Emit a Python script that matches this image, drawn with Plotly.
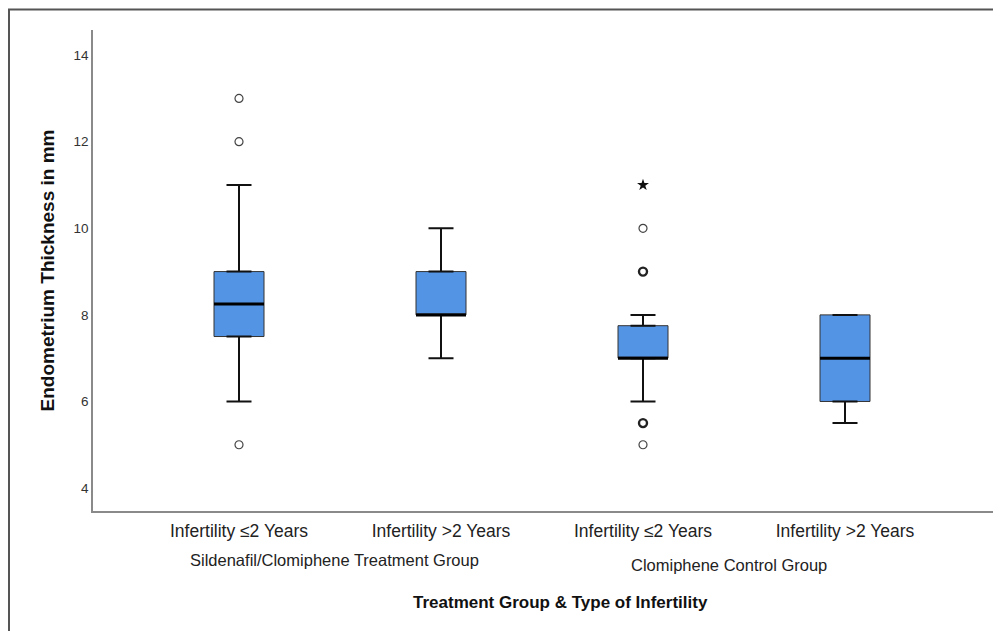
import plotly.graph_objects as go

# ---- data ----
groups = ["Sildenafil/Clomiphene Treatment Group", "Sildenafil/Clomiphene Treatment Group",
          "Clomiphene Control Group", "Clomiphene Control Group"]
subgroups = ["Infertility ≤2 Years", "Infertility >2 Years",
             "Infertility ≤2 Years", "Infertility >2 Years"]
q1 = [7.5, 8.0, 7.0, 6.0]
median = [8.25, 8.0, 7.0, 7.0]
q3 = [9.0, 9.0, 7.75, 8.0]
lower_fence = [6.0, 7.0, 6.0, 5.5]
upper_fence = [11.0, 10.0, 8.0, 8.0]

# outliers: (category index, value, kind)  kind: "o" single, "O" multiple, "*" extreme
outlier_idx = [0, 0, 0, 2, 2, 2, 2, 2]
outlier_val = [13, 12, 5, 11, 10, 9, 5.5, 5]
outlier_kind = ["o", "o", "o", "*", "o", "O", "O", "o"]

y_ticks = [4, 6, 8, 10, 12, 14]

# ---- figure ----
keys = [f"{g}|{s}" for g, s in zip(groups, subgroups)]
FONT = "Liberation Sans, Arial, sans-serif"
fig = go.Figure()

BOX_PX = 50
fig.add_trace(go.Box(
    x=keys, q1=q1, median=median, q3=q3,
    lowerfence=lower_fence, upperfence=upper_fence,
    width=0.2475, whiskerwidth=0,
    fillcolor="#5494e5", line=dict(color="#333333", width=1),
    boxpoints=False, showlegend=False, hoverinfo="skip",
))

# whiskers (thicker, with caps)
fig.add_trace(go.Scatter(
    x=keys, y=q3, mode="markers", marker=dict(size=1, color="rgba(0,0,0,0)"),
    error_y=dict(type="data", symmetric=False,
                 array=[u - q for u, q in zip(upper_fence, q3)],
                 arrayminus=[0] * len(q3), color="#111111", thickness=2, width=12.5),
    showlegend=False, hoverinfo="skip",
))
fig.add_trace(go.Scatter(
    x=keys, y=q1, mode="markers", marker=dict(size=1, color="rgba(0,0,0,0)"),
    error_y=dict(type="data", symmetric=False,
                 array=[0] * len(q1),
                 arrayminus=[q - l for q, l in zip(q1, lower_fence)],
                 color="#111111", thickness=2, width=12.5),
    showlegend=False, hoverinfo="skip",
))

# median (thick line)
fig.add_trace(go.Scatter(
    x=keys, y=median, mode="markers",
    marker=dict(symbol="line-ew", size=BOX_PX / 1.4, line=dict(color="#000000", width=3)),
    showlegend=False, hoverinfo="skip",
))

# outliers
for kind, sym, lw, col, size in [("o", "circle-open", 1.2, "#444444", 8),
                                 ("O", "circle-open", 2.4, "#222222", 8),
                                 ("*", "star", 0, "#111111", 9)]:
    xs = [keys[i] for i, k in zip(outlier_idx, outlier_kind) if k == kind]
    ys = [v for v, k in zip(outlier_val, outlier_kind) if k == kind]
    fig.add_trace(go.Scatter(
        x=xs, y=ys, mode="markers",
        marker=dict(symbol=sym, size=size, color=col, line=dict(color=col, width=lw)),
        showlegend=False, hoverinfo="skip",
    ))

OFF = 8  # page body margin
W, H = 1001 - OFF, 631 - OFF
L, T = 93 - OFF, 30 - OFF
R = W - (993 - OFF)
B = H - (511 - OFF)
pw, ph = W - L - R, H - T - B


def px_x(px):
    return (px - OFF - L) / pw


def px_y(py):
    return (T + ph - (py - OFF)) / ph


spacing = 202.0
x0 = -(239 - 93) / spacing
fig.update_layout(
    width=W, height=H,
    margin=dict(l=L, r=R, t=T, b=B),
    paper_bgcolor="white", plot_bgcolor="white",
    font=dict(family=FONT, color="#222222"),
    xaxis=dict(type="category", categoryorder="array", categoryarray=keys,
               tickvals=keys, ticktext=subgroups,
               range=[x0, x0 + pw / spacing],
               showline=True, linecolor="#8a8a8a", linewidth=1.5,
               showgrid=False, zeroline=False, ticks="", ticklen=0,
               ticklabelstandoff=3,
               tickfont=dict(size=17.5, color="#222222", family=FONT)),
    yaxis=dict(range=[3.47, 14.58], tickvals=y_ticks,
               showline=True, linecolor="#8a8a8a", linewidth=1.5,
               showgrid=False, zeroline=False, ticks="",
               tickfont=dict(size=13.5, color="#333333", family=FONT),
               title=dict(text="<b>Endometrium Thickness in mm</b>",
                          font=dict(size=19, color="#111111", family=FONT), standoff=14)),
)

# group labels
uniq_groups = []
for g in groups:
    if g not in uniq_groups:
        uniq_groups.append(g)
shifts = [-6, -15]
yoffs = [560, 565]
for gi, g in enumerate(uniq_groups):
    idx = [i for i, gg in enumerate(groups) if gg == g]
    fig.add_annotation(x=sum(idx) / len(idx), y=px_y(yoffs[gi]), xref="x", yref="paper",
                       yanchor="middle", text=g, showarrow=False, xshift=shifts[gi],
                       font=dict(size=16.5, color="#222222", family=FONT))

fig.add_annotation(x=px_x(560), y=px_y(602), xref="paper", yref="paper", yanchor="middle",
                   text="<b>Treatment Group & Type of Infertility</b>", showarrow=False,
                   font=dict(size=17, color="#111111", family=FONT))

# outer frame
fig.add_shape(type="rect", xref="paper", yref="paper",
              x0=px_x(9), x1=px_x(1010),
              y0=px_y(645), y1=px_y(9.5),
              line=dict(color="#555555", width=2), fillcolor="rgba(0,0,0,0)", layer="below")

fig.write_html("out.html")
